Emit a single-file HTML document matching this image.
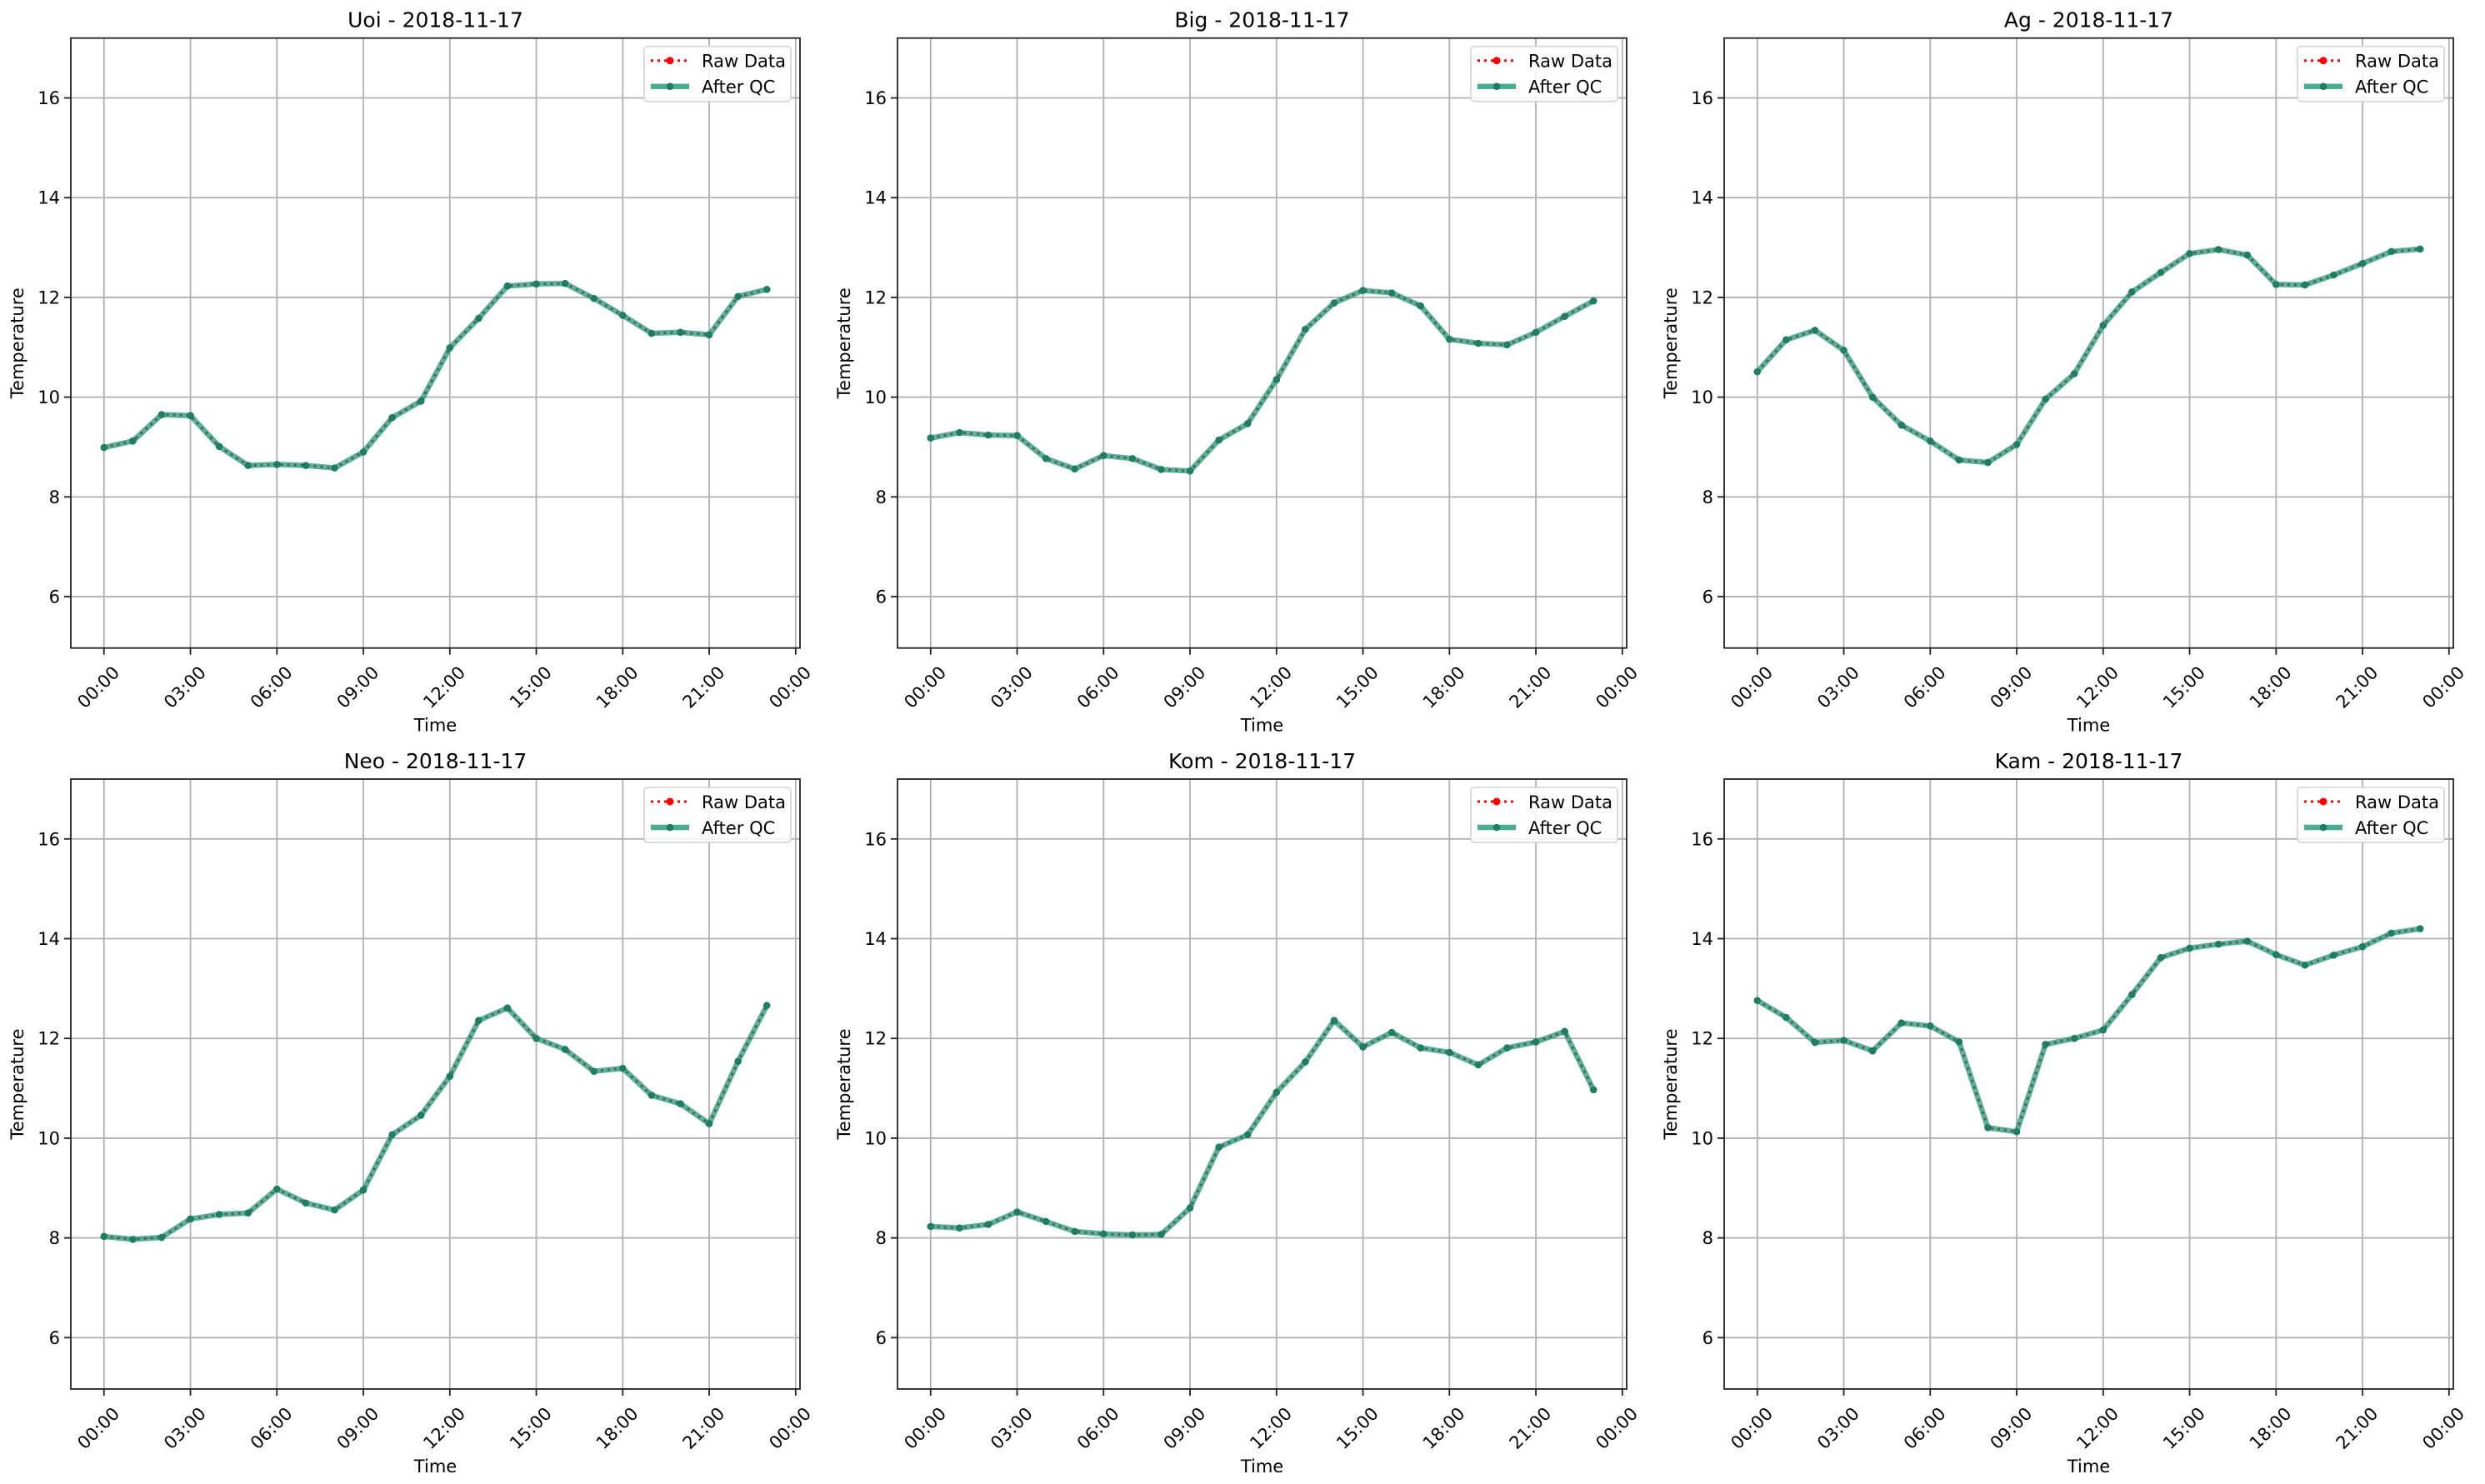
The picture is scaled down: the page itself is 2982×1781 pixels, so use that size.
<!DOCTYPE html>
<html><head><meta charset="utf-8"><style>
html,body{margin:0;padding:0;background:#fff;}
svg{display:block;font-family:"DejaVu Sans","Liberation Sans",sans-serif;}
</style></head><body>
<svg id="fig" width="2982" height="1781" viewBox="0 0 2982 1781" xmlns="http://www.w3.org/2000/svg"></svg>
<script>
const hours = [0,1,2,3,4,5,6,7,8,9,10,11,12,13,14,15,16,17,18,19,20,21,22,23];
const stationNames = ["Uoi","Big","Ag","Neo","Kom","Kam"];
const dateLabel = "2018-11-17";
const uoiTemps = [8.99,9.12,9.65,9.63,9.01,8.63,8.65,8.63,8.58,8.9,9.59,9.92,10.99,11.58,12.23,12.27,12.28,11.98,11.64,11.28,11.3,11.25,12.02,12.16];
const bigTemps = [9.18,9.29,9.24,9.23,8.77,8.56,8.83,8.77,8.55,8.52,9.14,9.47,10.35,11.36,11.89,12.14,12.09,11.83,11.16,11.08,11.05,11.3,11.62,11.93];
const agTemps = [10.51,11.15,11.34,10.94,10.0,9.44,9.12,8.74,8.69,9.05,9.96,10.47,11.44,12.11,12.5,12.88,12.96,12.85,12.26,12.25,12.45,12.68,12.92,12.97];
const neoTemps = [8.03,7.97,8.01,8.38,8.47,8.5,8.98,8.7,8.56,8.96,10.07,10.46,11.24,12.36,12.61,12.0,11.78,11.34,11.4,10.86,10.69,10.29,11.54,12.66];
const komTemps = [8.23,8.2,8.27,8.52,8.33,8.13,8.08,8.06,8.07,8.6,9.82,10.07,10.92,11.53,12.36,11.83,12.12,11.81,11.72,11.47,11.81,11.93,12.14,10.97];
const kamTemps = [12.76,12.42,11.92,11.96,11.75,12.31,12.25,11.93,10.21,10.13,11.88,12.0,12.17,12.88,13.62,13.81,13.89,13.95,13.68,13.47,13.67,13.84,14.11,14.2];
const yTicks = [6,8,10,12,14,16];
const xTickHours = [0,3,6,9,12,15,18,21,24];
const xTickLabels = ["00:00","03:00","06:00","09:00","12:00","15:00","18:00","21:00","00:00"];
const Y_MIN = 4.97, Y_MAX = 17.2, X_MIN = -1.15, X_MAX = 24.15;

const allSeries = [uoiTemps,bigTemps,agTemps,neoTemps,komTemps,kamTemps];
const NS = "http://www.w3.org/2000/svg";
const fig = document.getElementById("fig");
function mk(tag, attrs, parent){const e=document.createElementNS(NS,tag);for(const k in attrs)e.setAttribute(k,attrs[k]);(parent||fig).appendChild(e);return e;}

const lefts=[85,1077,2069], tops=[45.7,935], W=875, H=732;

for(let p=0;p<6;p++){
  const L=lefts[p%3], T=tops[Math.floor(p/3)];
  const xs=h=>L+(h-X_MIN)/(X_MAX-X_MIN)*W;
  const ys=v=>T+H-(v-Y_MIN)/(Y_MAX-Y_MIN)*H;
  const g=mk("g",{});
  
  
  // grid
  xTickHours.forEach((h,i)=>{
    const x=xs(h);
    const gl=mk("line",{x1:x,x2:x,y1:T,y2:T+H,stroke:"#b0b0b0","stroke-width":1.8},g);
    
    
    mk("line",{x1:x,x2:x,y1:T+H,y2:T+H+8,stroke:"#222","stroke-width":1.8},g);
    const t=mk("text",{x:0,y:0,"font-size":21,"text-anchor":"end",fill:"#000",transform:`translate(${x+9},${T+H+20}) rotate(-45)`,"dominant-baseline":"hanging"},g);
    t.textContent=xTickLabels[i];
    
    
  });
  yTicks.forEach(v=>{
    const y=ys(v);
    const gl=mk("line",{x1:L,x2:L+W,y1:y,y2:y,stroke:"#b0b0b0","stroke-width":1.8},g);
    
    
    mk("line",{x1:L-8,x2:L,y1:y,y2:y,stroke:"#222","stroke-width":1.8},g);
    const t=mk("text",{x:L-13,y:y+7.5,"font-size":21,"text-anchor":"end",fill:"#000"},g);
    t.textContent=String(v);
    
    
  });
  // series
  const d=allSeries[p];
  const pts=hours.map((h,i)=>xs(h).toFixed(1)+","+ys(d[i]).toFixed(1)).join(" ");
  const raw=mk("polyline",{points:pts,fill:"none",stroke:"#ff0000","stroke-width":3,"stroke-dasharray":"3 5","stroke-linejoin":"round"},g);
  
  
  const qc=mk("polyline",{points:pts,fill:"none",stroke:"#2a9d7c","stroke-opacity":0.78,"stroke-width":6.5,"stroke-linejoin":"round"},g);
  
  
  const dots=mk("polyline",{points:pts,fill:"none",stroke:"#5a5a52","stroke-opacity":0.8,"stroke-width":3,"stroke-dasharray":"3 5"},g);
  
  
  hours.forEach((h,i)=>{
    const c=mk("circle",{cx:xs(h),cy:ys(d[i]),r:4.3,fill:"#1f7d62"},g);
    
    
  });
  // frame
  const fr=mk("rect",{x:L,y:T,width:W,height:H,fill:"none",stroke:"#222","stroke-width":1.8},g);
  
  
  // title & labels
  const tt=mk("text",{x:L+W/2,y:T-13,"font-size":25,"text-anchor":"middle",fill:"#000"},g);
  tt.textContent=stationNames[p]+" - "+dateLabel;
  
  
  const xl=mk("text",{x:L+W/2,y:T+H+100,"font-size":21,"text-anchor":"middle",fill:"#000"},g);
  xl.textContent="Time";
  
  
  const yl=mk("text",{x:0,y:0,"font-size":21,"text-anchor":"middle",fill:"#000",transform:`translate(${L-57},${T+H/2}) rotate(-90)`},g);
  yl.textContent="Temperature";
  
  
  // legend
  const lx=L+W-187, ly=T+10;
  const lg=mk("g",{},g);
  
  
  mk("rect",{x:lx,y:ly,width:176,height:66,rx:4,fill:"#fff","fill-opacity":0.85,stroke:"#d8d8d8","stroke-width":1.8},lg);
  mk("line",{x1:lx+8,x2:lx+54,y1:ly+17,y2:ly+17,stroke:"#ff0000","stroke-width":3,"stroke-dasharray":"3 5"},lg);
  mk("circle",{cx:lx+31,cy:ly+17,r:4.5,fill:"#ff0000"},lg);
  const t1=mk("text",{x:lx+69,y:ly+25,"font-size":21,fill:"#000"},lg);
  t1.textContent="Raw Data";
  
  
  mk("line",{x1:lx+8,x2:lx+54,y1:ly+48,y2:ly+48,stroke:"#2a9d7c","stroke-opacity":0.85,"stroke-width":6.5},lg);
  mk("circle",{cx:lx+31,cy:ly+48,r:4.3,fill:"#1f7d62"},lg);
  const t2=mk("text",{x:lx+69,y:ly+56,"font-size":21,fill:"#000"},lg);
  t2.textContent="After QC";
  
  
}
</script>
</body></html>
